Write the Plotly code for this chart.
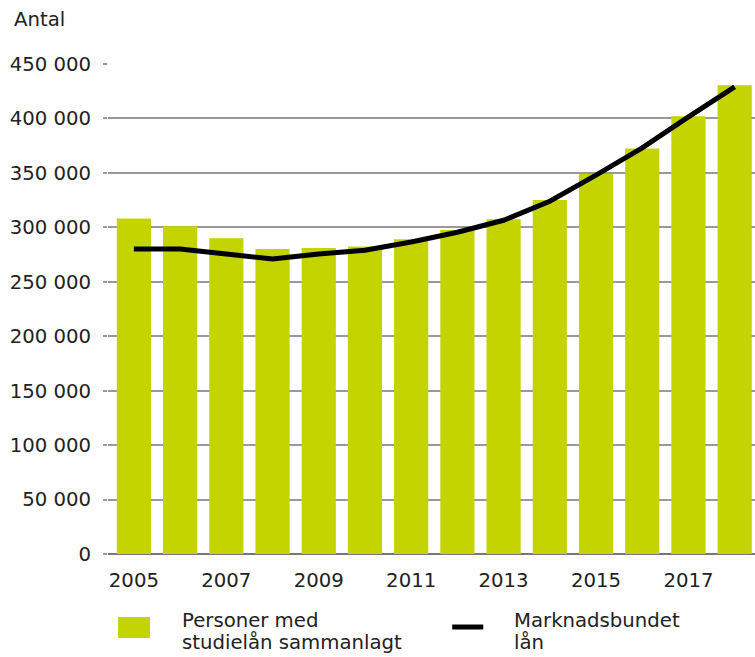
import plotly.graph_objects as go

years = list(range(2005, 2019))
studielan_totalt = [308000, 301000, 290000, 280000, 281000, 282500, 289000, 297500,
                    307500, 325000, 349000, 372500, 402000, 430500]
marknadsbundet = [280000, 280000, 275500, 271000, 275500, 279000, 286500, 295500,
                  306500, 324000, 348000, 373000, 401500, 429000]
x_ticks = [2005, 2007, 2009, 2011, 2013, 2015, 2017]
y_ticks = list(range(0, 450001, 50000))
y_labels = [f"{v:,}".replace(",", " ") for v in y_ticks]

green = "#c3d400"
grid = "#999999"
font_family = "DejaVu Sans, sans-serif"
fs = 19.7

fig = go.Figure()
fig.add_trace(go.Bar(x=years, y=studielan_totalt, marker_color=green,
                     marker_line_width=0, name="Personer med studielån sammanlagt"))
fig.add_trace(go.Scatter(x=years, y=marknadsbundet, mode="lines",
                         line=dict(color="black", width=5), name="Marknadsbundet lån"))

fig.update_layout(
    width=755, height=657,
    margin=dict(l=108, r=0, t=64, b=103),
    plot_bgcolor="white", paper_bgcolor="white",
    bargap=0.26, showlegend=False,
    font=dict(family=font_family, size=fs, color="#222"),
)
fig.update_xaxes(range=[2004.44, 2018.44], tickvals=x_ticks, ticks="",
                 showgrid=False, showline=False, zeroline=False,
                 ticklabelstandoff=12, tickfont=dict(size=fs))
fig.update_yaxes(range=[0, 450000], tickvals=y_ticks, ticktext=y_labels,
                 showgrid=True, gridcolor=grid, gridwidth=1.5,
                 zeroline=True, zerolinecolor="#777777", zerolinewidth=1.5,
                 ticks="outside", ticklen=4, tickcolor=grid, tickwidth=1.5,
                 ticklabelstandoff=8,
                 showline=False, tickfont=dict(size=fs))

fig.add_annotation(text="Antal", xref="paper", yref="paper", x=-0.148, y=1.09,
                   xanchor="left", yanchor="middle", showarrow=False)

# legend, drawn by hand
fig.add_shape(type="rect", xref="paper", yref="paper", x0=0.0155, x1=0.0649,
              y0=-0.1714, y1=-0.1286, fillcolor=green, line_width=0)
fig.add_shape(type="line", xref="paper", yref="paper", x0=0.532, x1=0.580,
              y0=-0.149, y1=-0.149, line=dict(color="black", width=5))
legend_lines = [("Personer med", 0.111, -0.1347), ("studielån sammanlagt", 0.111, -0.1796),
                ("Marknadsbundet", 0.6244, -0.1347), ("lån", 0.6244, -0.1796)]
for txt, lx, ly in legend_lines:
    fig.add_annotation(text=txt, xref="paper", yref="paper", x=lx, y=ly,
                       xanchor="left", yanchor="middle", showarrow=False)

# drop the default page margin so the figure fills the window
fig.write_html("out.html", config={"displayModeBar": False},
               post_script="document.body.style.margin='0';document.body.style.overflow='hidden';")
